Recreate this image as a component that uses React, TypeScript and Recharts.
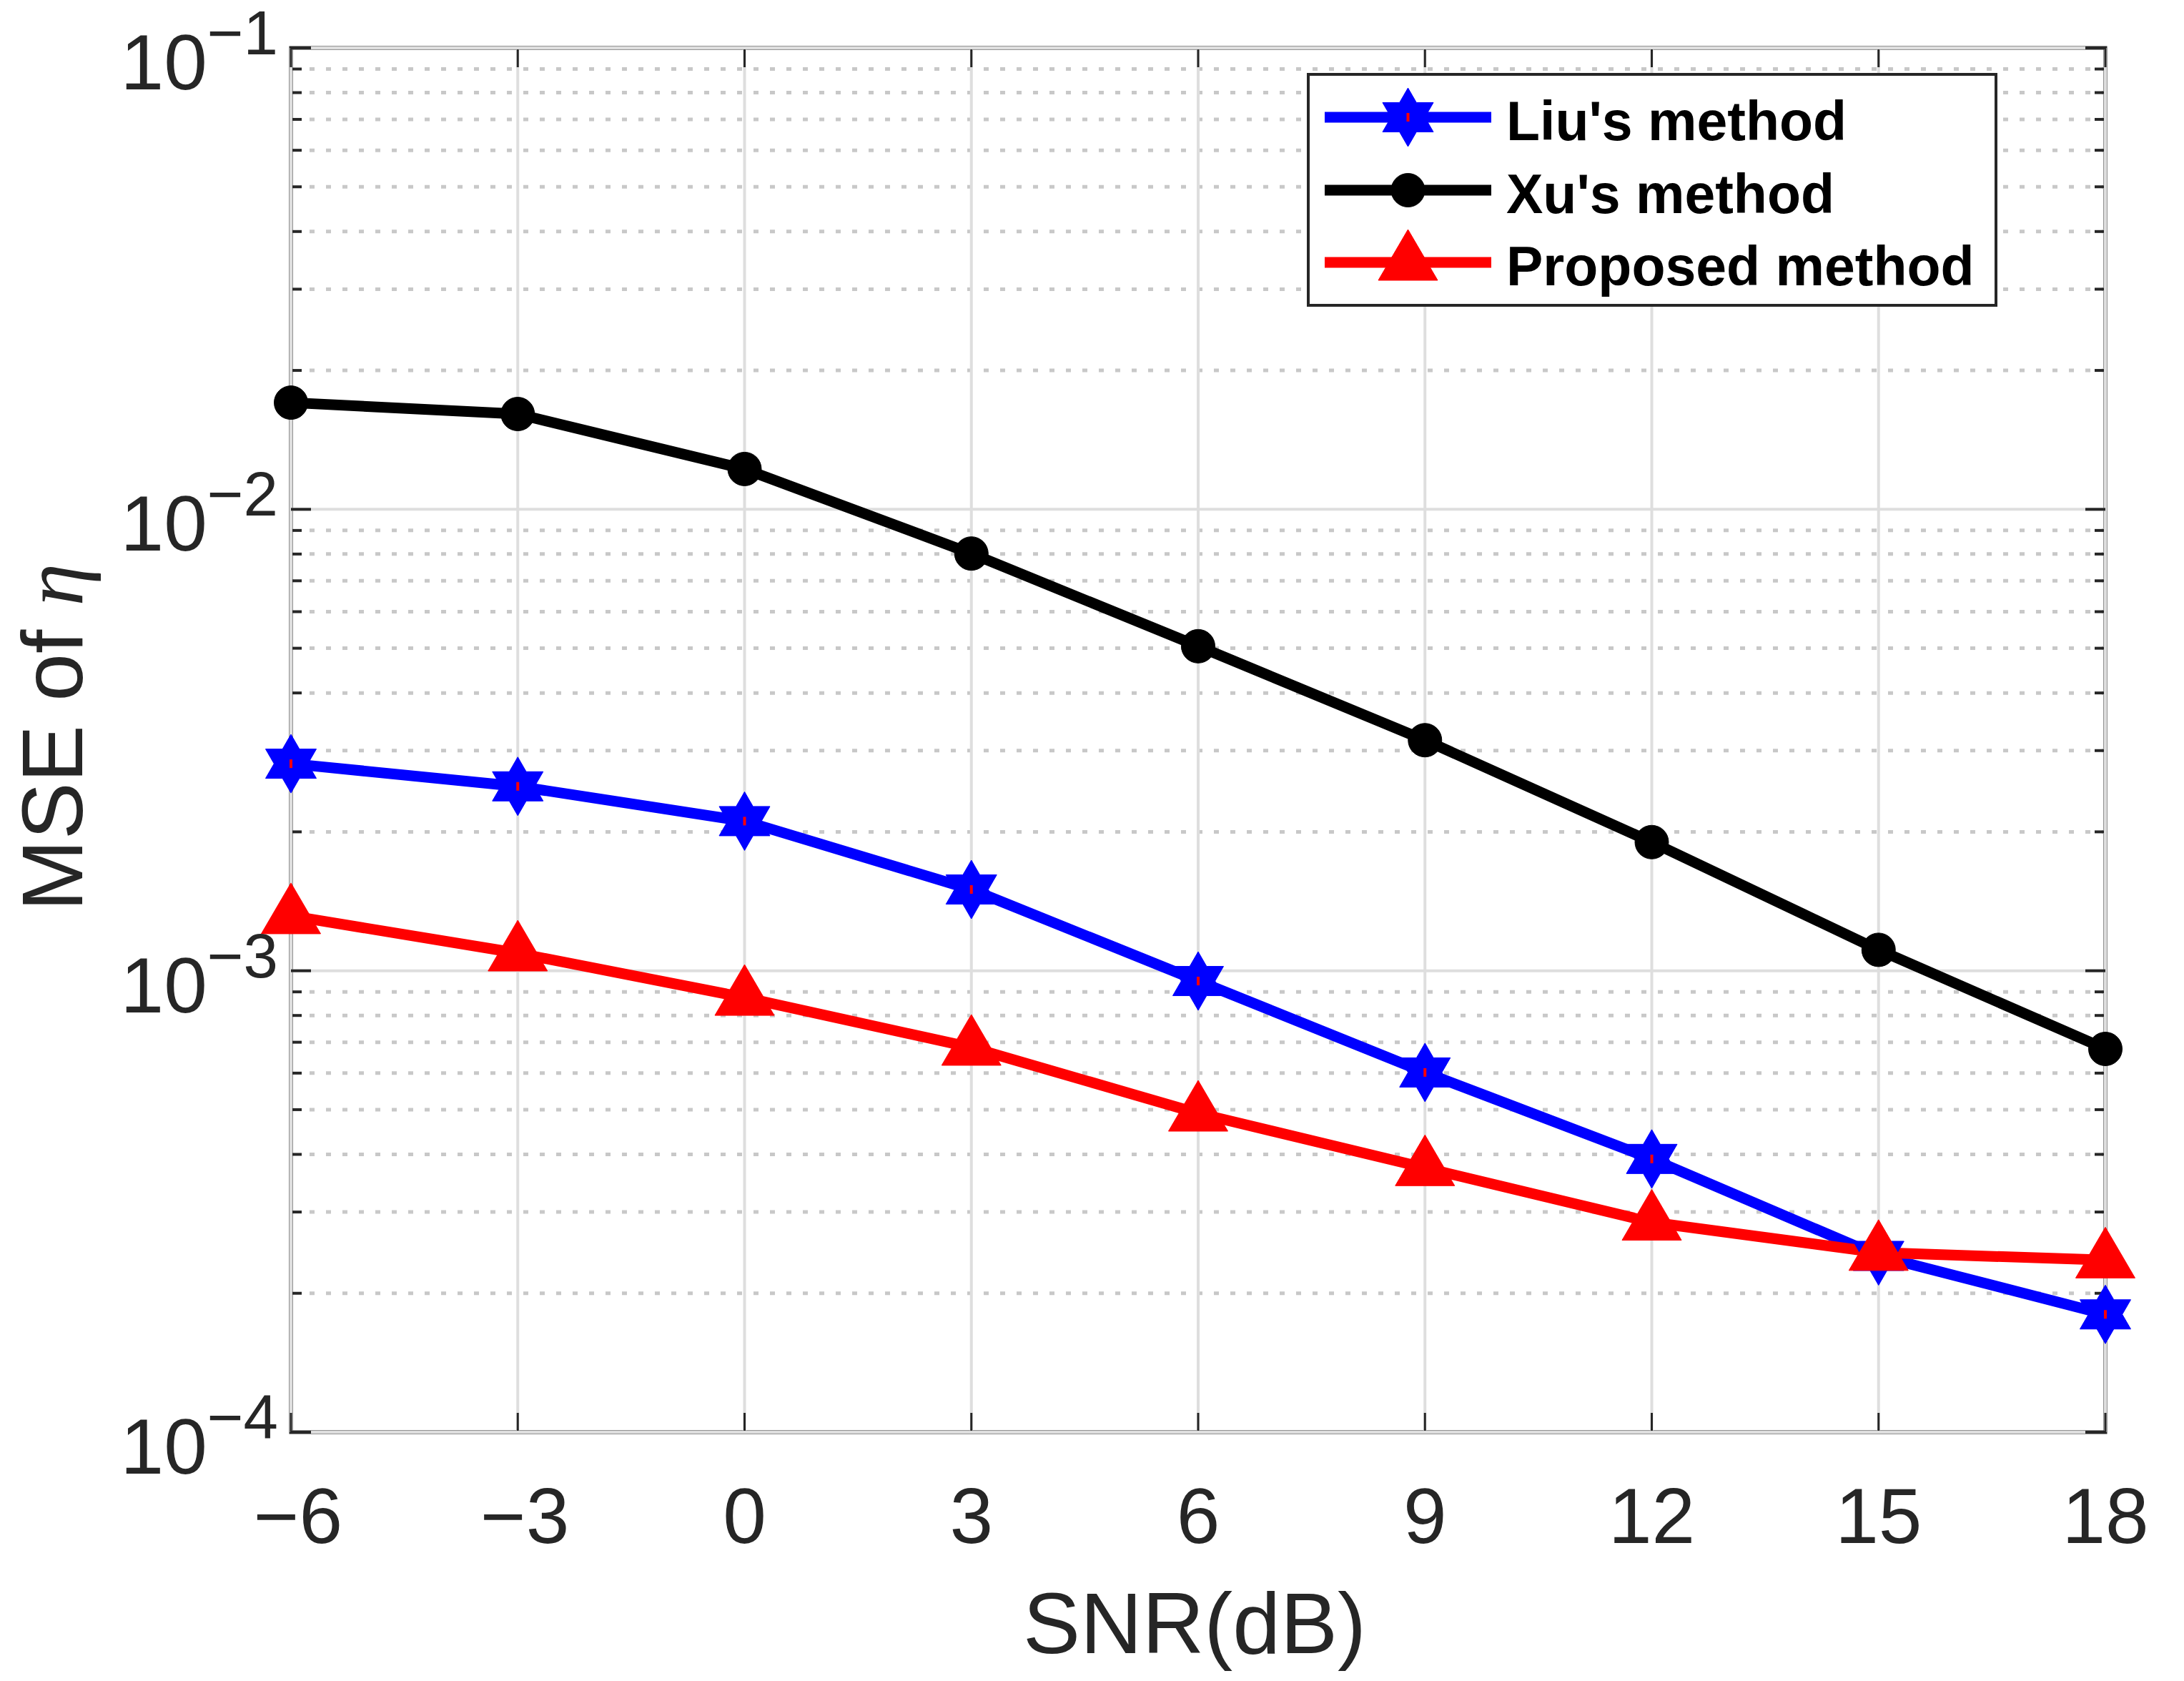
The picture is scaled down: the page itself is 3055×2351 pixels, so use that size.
import React from 'react';
import { LineChart, Line, XAxis, YAxis, ReferenceLine, ReferenceArea, Legend } from 'recharts';

// ---- data ----
const snrValues = [-6, -3, 0, 3, 6, 9, 12, 15, 18];
const liuValues = [0.00281, 0.00251, 0.00211, 0.0015, 0.00095, 0.000602, 0.000391, 0.000241, 0.00018];
const xuValues = [0.01703, 0.01609, 0.01223, 0.00802, 0.00505, 0.00316, 0.0019, 0.00111, 0.000677];
const proposedValues = [0.001315, 0.001092, 0.000875, 0.000682, 0.000491, 0.000374, 0.000285, 0.000245, 0.000236];

const xTicks = [-6, -3, 0, 3, 6, 9, 12, 15, 18];
const yMajorTicks = [1e-4, 1e-3, 1e-2, 1e-1];
const minorMultipliers = [2, 3, 4, 5, 6, 7, 8, 9];
const minorDecades = [1e-4, 1e-3, 1e-2];
const yMinorTicks = minorDecades.flatMap((d) => minorMultipliers.map((m) => m * d));

const seriesNames = ["Liu's method", "Xu's method", 'Proposed method'];
const seriesKeys = ['liu', 'xu', 'proposed'];
const seriesColors = ['#0000ff', '#000000', '#ff0000'];
const seriesMarkers = ['hexagram', 'circle', 'triangle'];

const rows = snrValues.map((s, i) => ({
  snr: s,
  liu: liuValues[i],
  xu: xuValues[i],
  proposed: proposedValues[i],
}));

// ---- style constants ----
const AXIS = '#262626';
const MAJOR_GRID = '#dedede';
const MINOR_GRID = '#c8c8c8';
const SANS = '"Liberation Sans", Arial, Helvetica, sans-serif';

function markerShape(kind: string, cx: number, cy: number, color: string, key?: string) {
  if (kind === 'hexagram') {
    const R = 41;
    const r = R / Math.sqrt(3);
    const pts: string[] = [];
    for (let i = 0; i < 12; i++) {
      const a = ((-90 + i * 30) * Math.PI) / 180;
      const rad = i % 2 === 0 ? R : r;
      pts.push(`${cx + rad * Math.cos(a)},${cy + rad * Math.sin(a)}`);
    }
    return (
      <g key={key}>
        <polygon points={pts.join(' ')} fill={color} stroke={color} strokeWidth={1} />
        <rect x={cx - 2} y={cy - 6} width={4} height={12} fill="#ff0000" />
      </g>
    );
  }
  if (kind === 'circle') {
    return <circle key={key} cx={cx} cy={cy} r={23.5} fill={color} stroke={color} strokeWidth={1} />;
  }
  const pts = `${cx},${cy - 46} ${cx - 41.5},${cy + 25} ${cx + 41.5},${cy + 25}`;
  return <polygon key={key} points={pts} fill={color} stroke={color} strokeWidth={1} />;
}

const XTick = (props: any) => {
  const { x, y, payload } = props;
  const v = payload.value;
  const txt = v < 0 ? `\u2212${Math.abs(v)}` : `${v}`;
  return (
    <text x={x + (v < 0 ? 10 : 0)} y={y + 155} textAnchor="middle" fontSize={109} fontFamily={SANS} fill={AXIS}>
      {txt}
    </text>
  );
};

const YTick = (props: any) => {
  const { x, y, payload } = props;
  const exp = Math.round(Math.log10(payload.value));
  return (
    <text x={x - 18} y={y + 58} textAnchor="end" fontSize={109} fontFamily={SANS} fill={AXIS}>
      <tspan>10</tspan>
      <tspan fontSize={87} dy={-49}>
        {exp < 0 ? `\u2212${Math.abs(exp)}` : `${exp}`}
      </tspan>
    </text>
  );
};

const yGridShape = (major: boolean) => (p: any) => {
  const x1 = Math.min(p.x1, p.x2);
  const x2 = Math.max(p.x1, p.x2);
  const y = p.y1;
  const len = major ? 28 : 15;
  return (
    <g>
      {major ? (
        <line x1={x1} x2={x2} y1={y} y2={y} stroke={MAJOR_GRID} strokeWidth={4} />
      ) : (
        <line x1={x1 + 26} x2={x2} y1={y} y2={y} stroke={MINOR_GRID} strokeWidth={5} strokeDasharray="7 16" />
      )}
      <line x1={x1} x2={x1 + len} y1={y} y2={y} stroke={AXIS} strokeWidth={4} />
      <line x1={x2} x2={x2 - len} y1={y} y2={y} stroke={AXIS} strokeWidth={4} />
    </g>
  );
};

const xGridShape = (p: any) => {
  const y1 = Math.min(p.y1, p.y2);
  const y2 = Math.max(p.y1, p.y2);
  const x = p.x1;
  return (
    <g>
      <line x1={x} x2={x} y1={y1} y2={y2} stroke={MAJOR_GRID} strokeWidth={4} />
      <line x1={x} x2={x} y1={y2} y2={y2 - 27} stroke={AXIS} strokeWidth={3} />
      <line x1={x} x2={x} y1={y1} y2={y1 + 27} stroke={AXIS} strokeWidth={3} />
    </g>
  );
};

const LegendBox = () => {
  const rowY = [62, 164, 265];
  return (
    <svg width={966} height={327} style={{ display: 'block' }}>
      <rect x={2} y={2} width={962} height={323} fill="#ffffff" stroke={AXIS} strokeWidth={4} />
      {seriesNames.map((name, i) => (
        <g key={name}>
          <line x1={25} x2={258} y1={rowY[i]} y2={rowY[i]} stroke={seriesColors[i]} strokeWidth={15} />
          {markerShape(seriesMarkers[i], 141.5, rowY[i], seriesColors[i])}
          <text x={279} y={rowY[i] + 32} fontSize={77} fontWeight="bold" fontFamily={SANS} fill="#000000">
            {name}
          </text>
        </g>
      ))}
    </svg>
  );
};

const YLabel = (props: any) => {
  const vb = props.viewBox || { x: 0, y: 59, width: 399, height: 1936 };
  const cx = vb.x + 107;
  const cy = vb.y + vb.height / 2 - 4;
  return (
    <text
      x={cx}
      y={cy}
      transform={`rotate(-90, ${cx}, ${cy})`}
      textAnchor="middle"
      fontSize={120}
      fontFamily={SANS}
      fill={AXIS}
    >
      <tspan>MSE of </tspan>
      <tspan fontFamily='"Liberation Serif", "DejaVu Serif", serif' fontStyle="italic">
        η
      </tspan>
    </text>
  );
};

const XLabel = (props: any) => {
  const vb = props.viewBox || { x: 399, y: 1995, width: 2538, height: 341 };
  return (
    <text
      x={vb.x + vb.width / 2 - 5}
      y={vb.y + 309}
      textAnchor="middle"
      fontSize={120}
      fontFamily={SANS}
      fill={AXIS}
    >
      SNR(dB)
    </text>
  );
};

export default function App() {
  return (
    <div style={{ width: 3040, height: 2336 }}>
      <LineChart width={3040} height={2336} data={rows} margin={{ top: 59, right: 103, left: 0, bottom: 0 }}>
        <XAxis
          dataKey="snr"
          type="number"
          domain={[-6, 18]}
          ticks={xTicks}
          interval={0}
          height={341}
          axisLine={false}
          tickLine={false}
          tickSize={0}
          tickMargin={0}
          tick={<XTick />}
          label={<XLabel />}
        />
        <YAxis
          type="number"
          scale="log"
          domain={[1e-4, 1e-1]}
          ticks={yMajorTicks}
          interval={0}
          width={399}
          axisLine={false}
          tickLine={false}
          tickSize={0}
          tickMargin={0}
          tick={<YTick />}
          label={<YLabel />}
        />
        {yMinorTicks.map((v) => (
          <ReferenceLine key={`ymin-${v}`} y={v} shape={yGridShape(false)} />
        ))}
        {xTicks.map((v) => (
          <ReferenceLine key={`x-${v}`} x={v} shape={xGridShape} />
        ))}
        {yMajorTicks.map((v) => (
          <ReferenceLine key={`ymaj-${v}`} y={v} shape={yGridShape(true)} />
        ))}
        <ReferenceArea x1={-6} x2={18} y1={1e-4} y2={1e-1} fill="none" fillOpacity={0} stroke={AXIS} strokeWidth={5} />
        {seriesKeys.map((k, i) => (
          <Line
            key={k}
            dataKey={k}
            name={seriesNames[i]}
            stroke={seriesColors[i]}
            strokeWidth={15}
            strokeLinejoin="round"
            isAnimationActive={false}
            dot={(p: any) => markerShape(seriesMarkers[i], p.cx, p.cy, seriesColors[i], `${k}-${p.index}`)}
            activeDot={false}
          />
        ))}
        <Legend
          layout="vertical"
          verticalAlign="middle"
          align="center"
          content={() => <LegendBox />}
          wrapperStyle={{ position: 'absolute', left: 1820, top: 94, width: 966, height: 327 }}
        />
      </LineChart>
    </div>
  );
}
